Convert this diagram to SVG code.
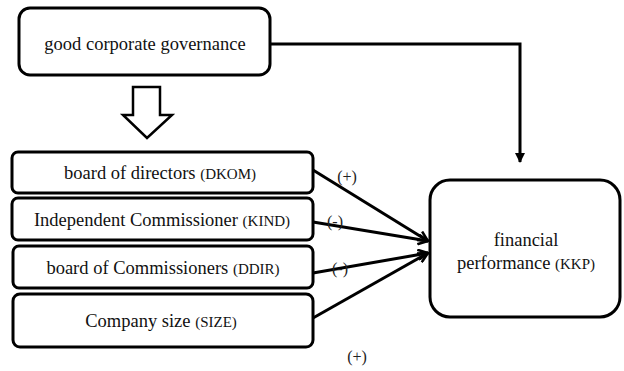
<svg xmlns="http://www.w3.org/2000/svg" width="624" height="371" viewBox="0 0 624 371">
<defs>
<style>
.box{fill:#fff;stroke:#000;stroke-width:3}
.t{font-family:'Liberation Serif','Times New Roman',Times,serif;font-size:18.5px;fill:#111;text-anchor:middle}
.s{font-size:15px}
.lbl{font-family:'Liberation Serif','Times New Roman',Times,serif;font-size:16px;fill:#222;text-anchor:middle}
.ln{fill:none;stroke:#000;stroke-width:3}
</style>
<marker id="open" viewBox="0 0 12 12" refX="11" refY="6" markerWidth="12" markerHeight="12" markerUnits="userSpaceOnUse" orient="auto">
<path d="M1,1 L11,6 L1,11" fill="none" stroke="#000" stroke-width="2.5"/>
</marker>
<marker id="solid" viewBox="0 0 10 10" refX="9" refY="5" markerWidth="10" markerHeight="10" markerUnits="userSpaceOnUse" orient="auto">
<path d="M0,0 L10,5 L0,10 Z" fill="#000"/>
</marker>
</defs>
<g id="connectors">
<polyline class="ln" points="270,44 520,44 520,162" marker-end="url(#solid)"/>
<polygon points="133,87 160,87 160,115 172,115 147,138 123,115 133,115" fill="#fff" stroke="#000" stroke-width="2.5" stroke-linejoin="miter"/>
<line class="ln" x1="313" y1="170" x2="428" y2="241" marker-end="url(#open)"/>
<line class="ln" x1="313" y1="222" x2="428" y2="241" marker-end="url(#open)"/>
<line class="ln" x1="313" y1="273" x2="428" y2="253" marker-end="url(#open)"/>
<line class="ln" x1="313" y1="318" x2="428" y2="253" marker-end="url(#open)"/>
<text class="lbl" x="347" y="182" font-family="Liberation Serif, serif">(+)</text>
<text class="lbl" x="335" y="227" font-family="Liberation Serif, serif">(-)</text>
<text class="lbl" x="340" y="274" font-family="Liberation Serif, serif">(-)</text>
<text class="lbl" x="357" y="362" font-family="Liberation Serif, serif">(+)</text>
</g>
<g id="gcg">
<rect class="box" x="19" y="8" width="251" height="67" rx="11"/>
<text class="t" x="145" y="50" font-family="Liberation Serif, serif">good corporate governance</text>
</g>
<g id="dkom">
<rect class="box" x="12" y="152" width="301" height="41" rx="6"/>
<text class="t" x="160" y="179" font-family="Liberation Serif, serif">board of directors <tspan class="s">(DKOM)</tspan></text>
</g>
<g id="kind">
<rect class="box" x="12" y="198" width="301" height="42" rx="6"/>
<text class="t" x="162" y="226" font-family="Liberation Serif, serif">Independent Commissioner <tspan class="s">(KIND)</tspan></text>
</g>
<g id="ddir">
<rect class="box" x="13" y="246" width="300" height="42" rx="6"/>
<text class="t" x="163" y="274" font-family="Liberation Serif, serif">board of Commissioners <tspan class="s">(DDIR)</tspan></text>
</g>
<g id="size">
<rect class="box" x="13" y="294" width="300" height="53" rx="7"/>
<text class="t" x="161" y="327" font-family="Liberation Serif, serif">Company size <tspan class="s">(SIZE)</tspan></text>
</g>
<g id="kkp">
<rect class="box" x="430" y="180" width="190" height="137" rx="20"/>
<text class="t" x="526" y="246" font-family="Liberation Serif, serif">financial</text>
<text class="t" x="526" y="269" font-family="Liberation Serif, serif">performance <tspan class="s">(KKP)</tspan></text>
</g>
</svg>
